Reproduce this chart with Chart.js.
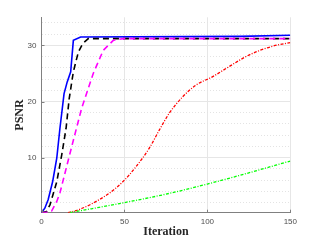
<!DOCTYPE html>
<html>
  <head>
    <meta charset="UTF-8" />
    <title>PSNR vs Iteration</title>
    <script src="https://cdn.jsdelivr.net/npm/chart.js"></script>
    <style type="text/css">
      body{ margin:0; background:#fff; }
      #psnr{ display:block; }
    </style>
  </head>
  <body>
    <canvas id="psnr" width="321" height="240"></canvas>

    <script>
      // values
      var blueIter = [0, 2, 4, 6.7, 9.2, 11.1, 13.6, 15.5, 17.6, 19.2, 23.6, 120, 150];
      var bluePsnr = [0.2, 1.0, 2.5, 5.7, 9.9, 15.2, 21.4, 23.5, 25.3, 30.9, 31.5, 31.6, 31.8];

      var blackIter = [0, 3, 5.1, 7, 9.2, 12.2, 14.8, 16.7, 19.2, 22.2, 24.8, 28.2, 150];
      var blackPsnr = [0.2, 0.4, 1.6, 3.5, 5.7, 10.5, 15.2, 20.5, 25.3, 28.8, 30.3, 31.2, 31.2];

      var magentaIter = [0, 5, 6.1, 9.2, 11.1, 17.2, 24.2, 31.2, 37.2, 43.3, 49.3, 150];
      var magentaPsnr = [0.2, 0.3, 0.5, 2.2, 3.7, 10.8, 18.8, 25.0, 29.1, 30.9, 31.2, 31.2];

      var redIter = [16, 23, 31, 41, 49, 57, 65, 71, 77, 85, 93, 103, 113, 122.6, 131.6, 140, 150];
      var redPsnr = [0.2, 0.8, 1.9, 3.7, 5.7, 8.4, 11.7, 14.9, 17.9, 20.8, 22.9, 24.4, 26.2, 27.9, 29.1, 29.9, 30.5];

      var greenIter = [17, 30, 50, 75, 100, 125, 150];
      var greenPsnr = [0.2, 0.9, 2.0, 3.5, 5.3, 7.3, 9.4];

      var xTicks = [0, 50, 100, 150];
      var yMajorTicks = [10, 20, 30];
      var yMinorTicks = [2, 4, 6, 8, 12, 14, 16, 18, 22, 24, 26, 28, 32, 34];

      function points(xs, ys){
        return xs.map(function(x, i){ return {x: x, y: ys[i]}; });
      }
      function setTicks(list){
        return function(scale){ scale.ticks = list.map(function(v){ return {value: v}; }); };
      }

      // MATLAB style inward tick marks
      var inwardTicks = {
        id: 'inwardTicks',
        afterDatasetsDraw: function(chart){
          var ctx = chart.ctx, a = chart.chartArea;
          var xs = chart.scales.x, ys = chart.scales.y;
          ctx.save();
          ctx.strokeStyle = '#808080';
          ctx.lineWidth = 1;
          ctx.beginPath();
          xTicks.forEach(function(v){
            var px = Math.round(xs.getPixelForValue(v)) + 0.5;
            ctx.moveTo(px, a.bottom); ctx.lineTo(px, a.bottom - 3);
          });
          yMajorTicks.forEach(function(v){
            var py = Math.round(ys.getPixelForValue(v)) + 0.5;
            ctx.moveTo(a.left, py); ctx.lineTo(a.left + 3, py);
          });
          ctx.stroke();
          ctx.restore();
        }
      };

      var tickFont = {family: "'Liberation Sans', Arial, sans-serif", size: 8};
      var titleFont = {family: "'Liberation Serif', 'Times New Roman', serif", size: 12, weight: 'bold'};

      new Chart(document.getElementById('psnr'), {
        type: 'line',
        data: {
          datasets: [
            { data: points(greenIter, greenPsnr), borderColor: '#00ff00', borderWidth: 1.3,
              borderDash: [3, 1.5, 1, 1.5], cubicInterpolationMode: 'monotone' },
            { data: points(redIter, redPsnr), borderColor: '#ff0000', borderWidth: 1.3,
              borderDash: [3, 1.5, 1, 1.5], cubicInterpolationMode: 'monotone' },
            { data: points(magentaIter, magentaPsnr), borderColor: '#ff00ff', borderWidth: 1.6,
              borderDash: [6, 4] },
            { data: points(blackIter, blackPsnr), borderColor: '#000000', borderWidth: 1.6,
              borderDash: [6, 4] },
            { data: points(blueIter, bluePsnr), borderColor: '#0000ff', borderWidth: 1.6 }
          ]
        },
        options: {
          responsive: false,
          animation: false,
          parsing: false,
          elements: { point: { radius: 0 }, line: { tension: 0, fill: false } },
          layout: { padding: { left: 0, right: 30.7, top: 17.3, bottom: 0 } },
          plugins: { legend: { display: false }, tooltip: { enabled: false } },
          scales: {
            x: {
              type: 'linear', min: 0, max: 150,
              afterBuildTicks: setTicks(xTicks),
              afterFit: function(s){ s.height = 27.3; },
              grid: { color: '#e6e6e6', drawTicks: false },
              border: { color: '#808080', width: 1 },
              ticks: { font: tickFont, color: '#4d4d4d', padding: 4, maxRotation: 0 },
              title: { display: true, text: 'Iteration', font: titleFont, color: '#262626',
                       padding: { top: 0, bottom: 1 } }
            },
            y: {
              type: 'linear', min: 0.2, max: 35,
              afterBuildTicks: setTicks(yMajorTicks),
              afterFit: function(s){ s.width = 41.5; },
              grid: { color: '#e6e6e6', drawTicks: false },
              border: { color: '#808080', width: 1 },
              ticks: { font: tickFont, color: '#4d4d4d', padding: 5 },
              title: { display: true, text: 'PSNR', font: titleFont, color: '#262626',
                       padding: { top: 13, bottom: 0 } }
            },
            yMinor: {
              type: 'linear', position: 'left', min: 0.2, max: 35,
              afterBuildTicks: setTicks(yMinorTicks),
              afterFit: function(s){ s.width = 0; },
              grid: { color: '#e3e3e3', drawTicks: false },
              border: { display: false, dash: [1, 2] },
              ticks: { display: false }
            }
          }
        },
        plugins: [inwardTicks]
      });
    </script>
  </body>
</html>
